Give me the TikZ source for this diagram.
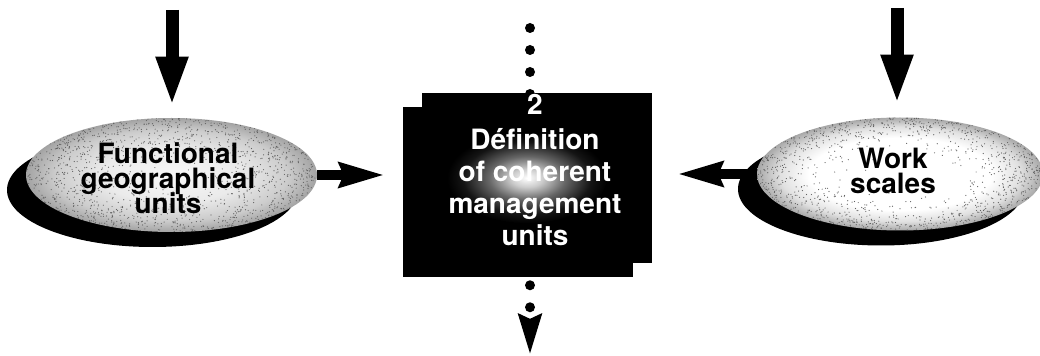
\documentclass[tikz,border=0pt]{standalone}
\usepackage{fontspec}
\setmainfont{TeX Gyre Heros}
\usetikzlibrary{arrows.meta,shapes.geometric,shadows,calc}
\pgfdeclareradialshading{eggL}{\pgfpointorigin}{color(0bp)=(white!97!black); color(12bp)=(white!92!black); color(20bp)=(white!80!black); color(25bp)=(white!64!black); color(50bp)=(white!64!black)}
\pgfdeclareradialshading{eggR}{\pgfpointorigin}{color(0bp)=(white); color(16bp)=(white); color(21bp)=(white!88!black); color(25bp)=(white!66!black); color(50bp)=(white!66!black)}
\pgfdeclareradialshading{glowbox}{\pgfpointorigin}{color(0bp)=(white); color(5bp)=(white!80!black); color(12bp)=(black!60); color(20bp)=(black!92); color(25bp)=(black); color(50bp)=(black)}
\begin{document}
\begin{tikzpicture}[x=0.75pt,y=-0.75pt,
  egg/.style={ellipse, inner sep=0pt,
    general shadow={shadow xshift=-14.25pt, shadow yshift=-11.25pt, fill=black}},
  blackbox/.style={rectangle, inner sep=0pt, fill=black,
    general shadow={shadow xshift=-14.25pt, shadow yshift=-10.5pt, fill=black}},
  speck/.style={fill=black!62},
  txt/.style={align=center, inner sep=0pt,
    font={\fontsize{21}{18.75}\selectfont\bfseries\lineskiplimit=-30pt}},
  boxtxt/.style={align=center, inner sep=0pt, text=white,
    font={\fontsize{21}{24}\selectfont\bfseries\lineskiplimit=-30pt}},
  toparrow/.style={line width=9.75pt, -{Triangle[length=37.5pt, width=21.75pt]}},
  sidearrow/.style={line width=7.5pt, -{Stealth[length=33.75pt, width=18pt, inset=3pt]}},
  dotline/.style={line width=7.5pt, line cap=round, dash pattern=on 0pt off 16.5pt},
  dotarrow/.style={line width=7.5pt, line cap=round, dash pattern=on 0pt off 16.5pt,
    -{Stealth[length=30pt, width=16.5pt, inset=3pt]}}]
\useasboundingbox (0,0) rectangle (1040,356);
\fill[white] (0,0) rectangle (1040,356);
\pgfmathsetseed{4242}

% central box and top dots
\coordinate (dtop) at (530,28);
\node[blackbox, minimum width=172.5pt, minimum height=127.5pt] (box) at (537,178) {};
\draw[dotline, shorten >=-2pt] (dtop) -- (dtop |- box.north);
\shade[shading=glowbox] (527,178) ellipse [x radius=60pt, y radius=34pt];
\node[boxtxt] (boxlabel) at (535,170) {2\\[2pt]Définition\\of coherent\\management\\units};

% ellipses
\node[egg, shade, shading=eggL, minimum width=218.25pt, minimum height=85.5pt] (fgu) at (171.5,175) {};
\node[egg, shade, shading=eggR, minimum width=214.5pt, minimum height=84.75pt] (ws) at (900,174) {};
\begin{scope}
  \clip (fgu.center) ellipse [x radius=109pt, y radius=42.7pt];
  \foreach \i in {1,...,1400} {
    \pgfmathsetmacro\rr{pow(rnd,0.3)}
    \pgfmathsetmacro\aa{360*rnd}
    \fill[speck] ($(fgu.center)+({145*\rr*cos(\aa)},{57*\rr*sin(\aa)})$) circle [radius=0.45pt];
  }
\end{scope}
\begin{scope}
  \clip (ws.center) ellipse [x radius=107pt, y radius=42.3pt];
  \foreach \i in {1,...,1200} {
    \pgfmathsetmacro\rr{pow(rnd,0.2)}
    \pgfmathsetmacro\aa{360*rnd}
    \fill[speck] ($(ws.center)+({143*\rr*cos(\aa)},{56.5*\rr*sin(\aa)})$) circle [radius=0.45pt];
  }
\end{scope}
\node[txt] (fgulabel) at (168,178) {Functional\\geographical\\units};
\node[txt] (wslabel) at (893,170.5) {Work\\scales};

% incoming arrows
\coordinate (inL) at (172,10);
\coordinate (inR) at (897,8);
\draw[toparrow, shorten >=8.25pt] (inL) -- (inL |- fgu.north);
\draw[toparrow, shorten >=9.4pt] (inR) -- (inR |- ws.north);

% side arrows
\draw[sidearrow, shorten >=27.75pt] (fgu.east) -- (fgu.east -| box.west);
\draw[sidearrow, shorten >=18.75pt] (ws.west) -- (ws.west -| box.east);

% outgoing dotted arrow
\coordinate (dout) at (530,355);
\draw[dotarrow, shorten <=16.5pt] (dout |- box.south) -- (dout);
\end{tikzpicture}
\end{document}
